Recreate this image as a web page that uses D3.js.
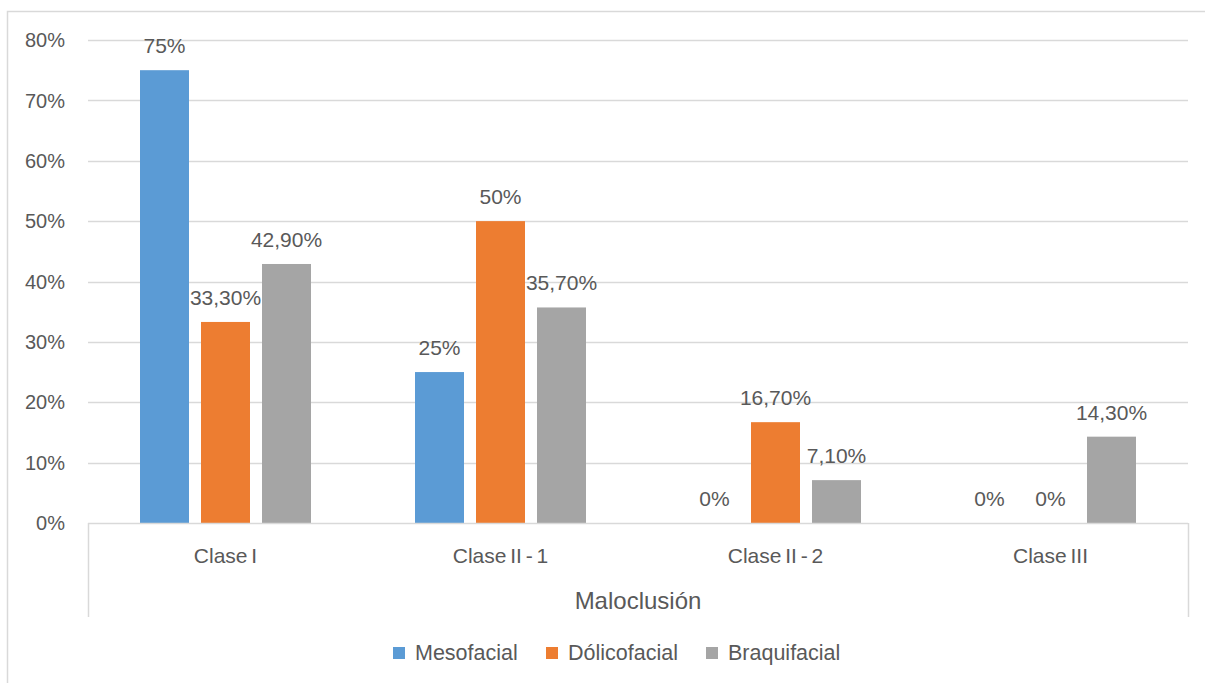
<!DOCTYPE html>
<html>
<head>
<meta charset="utf-8">
<script src="https://cdn.jsdelivr.net/npm/d3@7"></script>
<style>
  body { margin: 0; background: #fff; }
  svg text { font-family: "Liberation Sans", Arial, sans-serif; fill: #595959; }
</style>
</head>
<body>
<div id="chart"></div>
<script>
var categories = ["Clase I", "Clase II - 1", "Clase II - 2", "Clase III"];
var seriesNames = ["Mesofacial", "Dólicofacial", "Braquifacial"];
var mesofacial = [75, 25, 0, 0];
var dolicofacial = [33.3, 50, 16.7, 0];
var braquifacial = [42.9, 35.7, 7.1, 14.3];
var colors = ["#5B9BD5", "#ED7D31", "#A5A5A5"];
var yTicks = [0, 10, 20, 30, 40, 50, 60, 70, 80];
var axisTitle = "Maloclusión";

var series = [mesofacial, dolicofacial, braquifacial];

var width = 1205, height = 683;
var plot = {left: 88, right: 1188, top: 40, bottom: 523};

var svg = d3.select("#chart").append("svg")
    .attr("width", width)
    .attr("height", height);

// outer chart border
svg.append("rect")
    .attr("x", 7.5).attr("y", 11.5)
    .attr("width", width).attr("height", height)
    .attr("fill", "none")
    .attr("stroke", "#d9d9d9")
    .attr("stroke-width", 1.5);

var y = d3.scaleLinear().domain([0, 80]).range([plot.bottom, plot.top]);
var x0 = d3.scaleBand().domain(categories).range([plot.left, plot.right]);
var x1 = d3.scaleBand().domain(seriesNames)
    .range([0, 171])
    .paddingInner(12 / 61);
var groupOffset = (x0.bandwidth() - 171) / 2;

// gridlines
svg.append("g").selectAll("line")
    .data(yTicks.filter(function(d) { return d > 0; }))
    .enter().append("line")
    .attr("x1", plot.left).attr("x2", plot.right)
    .attr("y1", function(d) { return Math.round(y(d)) + 0.5; })
    .attr("y2", function(d) { return Math.round(y(d)) + 0.5; })
    .attr("stroke", "#d9d9d9")
    .attr("stroke-width", 1.5);

// y tick labels
svg.append("g").selectAll("text")
    .data(yTicks)
    .enter().append("text")
    .attr("x", 65)
    .attr("y", function(d) { return y(d); })
    .attr("dy", "0.36em")
    .attr("text-anchor", "end")
    .attr("font-size", 20)
    .text(function(d) { return d + "%"; });

// bars
var fmt = function(v) {
  return (v % 1 === 0 ? v : v.toFixed(2).replace(".", ",")) + "%";
};

var groups = svg.append("g").selectAll("g")
    .data(categories)
    .enter().append("g")
    .attr("transform", function(d) { return "translate(" + (x0(d) + groupOffset) + ",0)"; });

groups.selectAll("rect")
    .data(function(c, i) { return seriesNames.map(function(s, k) { return {s: s, k: k, v: series[k][i]}; }); })
    .enter().append("rect")
    .attr("x", function(d) { return x1(d.s); })
    .attr("width", x1.bandwidth())
    .attr("y", function(d) { return y(d.v); })
    .attr("height", function(d) { return plot.bottom - y(d.v); })
    .attr("fill", function(d) { return colors[d.k]; });

groups.selectAll("text")
    .data(function(c, i) { return seriesNames.map(function(s, k) { return {s: s, k: k, v: series[k][i]}; }); })
    .enter().append("text")
    .attr("x", function(d) { return x1(d.s) + x1.bandwidth() / 2; })
    .attr("y", function(d) { return y(d.v) - 17; })
    .attr("text-anchor", "middle")
    .attr("font-size", 21)
    .text(function(d) { return fmt(d.v); });

// category axis frame
var axisG = svg.append("g").attr("stroke", "#d9d9d9").attr("stroke-width", 1.5);
axisG.append("line")
    .attr("x1", plot.left).attr("x2", plot.right)
    .attr("y1", plot.bottom + 0.5).attr("y2", plot.bottom + 0.5);
axisG.append("line")
    .attr("x1", plot.left + 0.5).attr("x2", plot.left + 0.5)
    .attr("y1", plot.bottom).attr("y2", 617);
axisG.append("line")
    .attr("x1", plot.right + 0.5).attr("x2", plot.right + 0.5)
    .attr("y1", plot.bottom).attr("y2", 617);

svg.append("g").selectAll("text")
    .data(categories)
    .enter().append("text")
    .attr("x", function(d) { return x0(d) + x0.bandwidth() / 2; })
    .attr("y", 563)
    .attr("text-anchor", "middle")
    .attr("font-size", 21)
    .attr("word-spacing", -2)
    .text(function(d) { return d; });

svg.append("text")
    .attr("x", (plot.left + plot.right) / 2)
    .attr("y", 609)
    .attr("text-anchor", "middle")
    .attr("font-size", 24)
    .text(axisTitle);

// legend
var legendX = [393, 546, 706];
var legend = svg.append("g").selectAll("g")
    .data(seriesNames)
    .enter().append("g")
    .attr("transform", function(d, i) { return "translate(" + legendX[i] + ",647)"; });
legend.append("rect")
    .attr("width", 12).attr("height", 12)
    .attr("fill", function(d, i) { return colors[i]; });
legend.append("text")
    .attr("x", 22).attr("y", 13)
    .attr("font-size", 21.5)
    .text(function(d) { return d; });
</script>
</body>
</html>
